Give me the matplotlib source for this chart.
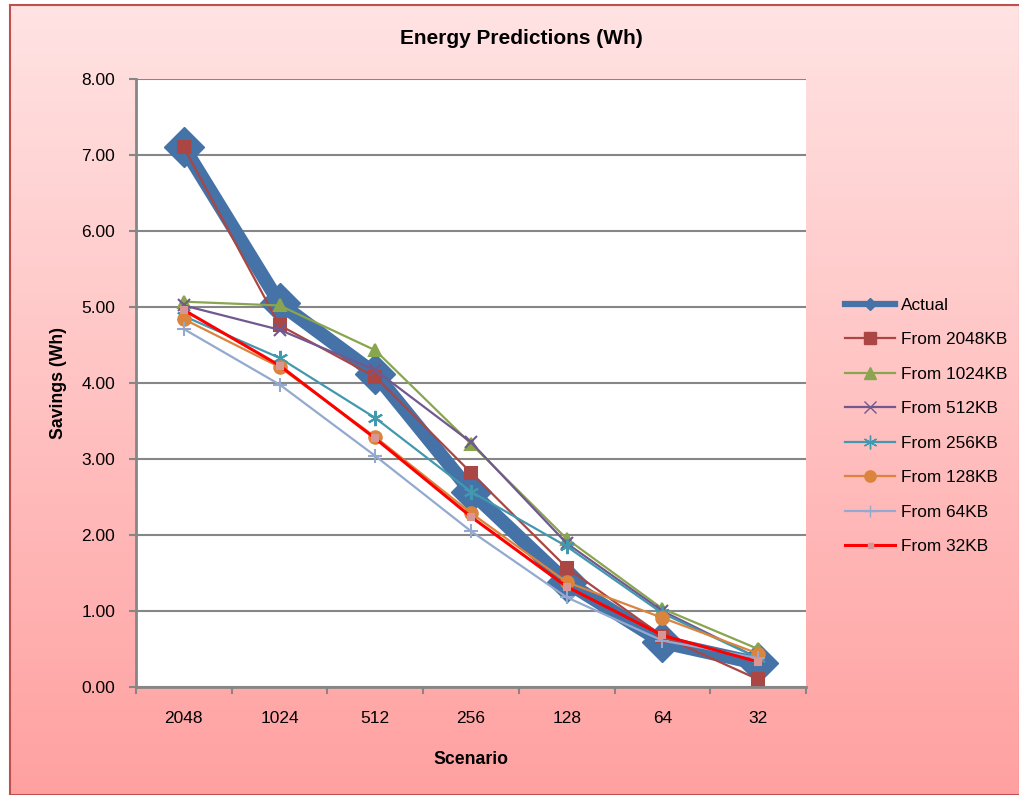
import numpy as np
import matplotlib.pyplot as plt
from matplotlib.lines import Line2D

plt.rcParams['font.family'] = ['Liberation Sans', 'DejaVu Sans']

# data
scenarios = ['2048', '1024', '512', '256', '128', '64', '32']
actual = [7.10, 5.05, 4.12, 2.57, 1.38, 0.59, 0.31]
from_2048 = [7.10, 4.76, 4.08, 2.82, 1.57, 0.67, 0.10]
from_1024 = [5.07, 5.02, 4.43, 3.20, 1.95, 1.03, 0.50]
from_512 = [5.02, 4.70, 4.17, 3.22, 1.89, 1.00, 0.38]
from_256 = [4.88, 4.33, 3.54, 2.57, 1.85, 0.97, 0.38]
from_128 = [4.84, 4.21, 3.29, 2.29, 1.38, 0.91, 0.44]
from_64 = [4.71, 3.98, 3.04, 2.05, 1.18, 0.61, 0.38]
from_32 = [4.96, 4.23, 3.27, 2.24, 1.32, 0.68, 0.33]

series = [
    ('From 2048KB', from_2048, '#AA4643', 's', 9, 1.6),
    ('From 1024KB', from_1024, '#89A54E', '^', 9, 1.6),
    ('From 512KB', from_512, '#71588F', 'x', 9, 1.6),
    ('From 256KB', from_256, '#4198AF', (6, 2, 0), 11, 1.6),
    ('From 128KB', from_128, '#DB843D', 'o', 9, 1.6),
    ('From 64KB', from_64, '#93A9CF', '+', 10, 1.6),
    ('From 32KB', from_32, '#FF0000', 's', 4, 2.2),
]

fig = plt.figure(figsize=(10.2, 7.95), dpi=100)

# pink gradient background with border
bg = fig.add_axes([10/1020, 0, 1 - 10/1020, 1 - 5/795])
grad = np.linspace(0, 1, 256).reshape(-1, 1)
top = np.array([1.0, 0.89, 0.89])
bot = np.array([1.0, 0.63, 0.63])
img = top + (bot - top) * grad[:, :, None]
bg.imshow(img, aspect='auto', extent=[0, 1, 0, 1])
bg.set_xticks([])
bg.set_yticks([])
for s in bg.spines.values():
    s.set_color('#C0504D')
    s.set_linewidth(1.5)

ax = fig.add_axes([136/1020, 1 - 687/795, (806-136)/1020, (687-79)/795])
ax.set_facecolor('white')
x = np.arange(len(scenarios))

for lbl, vals, col, mk, ms, lw in series:
    mfc = '#D99694' if lbl == 'From 32KB' else col
    ax.plot(x, vals, color=col, marker=mk, markersize=ms, linewidth=lw,
            markerfacecolor=mfc, markeredgecolor=mfc, markeredgewidth=1.5, zorder=3)
ax.plot(x, actual, color='#4572A7', marker='D', markersize=20, linewidth=10,
        solid_joinstyle='round', zorder=2)

ax.set_xlim(-0.5, 6.5)
ax.set_ylim(0, 8)
ax.set_yticks(np.arange(0, 8.01, 1))
ax.set_yticklabels(['%.2f' % v for v in np.arange(0, 8.01, 1)], fontsize=12.5)
ax.set_xticks(x)
ax.set_xticklabels(scenarios, fontsize=12.5)
ax.set_xticks(np.arange(-0.5, 6.6, 1), minor=True)
ax.tick_params(axis='x', which='major', length=0, pad=17.5)
ax.tick_params(axis='x', which='minor', length=5, width=1.5, color='#868686', direction='out')
ax.tick_params(axis='y', length=5, width=1.5, color='#868686', pad=10)
ax.grid(axis='y', color='#868686', linewidth=1.5)
ax.set_axisbelow(True)
for s in ['top', 'right']:
    ax.spines[s].set_visible(False)
for s in ['left', 'bottom']:
    ax.spines[s].set_color('#868686')
    ax.spines[s].set_linewidth(2)

ax.set_xlabel('Scenario', fontsize=12.7, fontweight='bold', labelpad=17.5)
ax.set_ylabel('Savings (Wh)', fontsize=12.7, fontweight='bold', labelpad=10)
fig.text(521/1020, 1 - 39/795, 'Energy Predictions (Wh)', fontsize=15,
         fontweight='bold', ha='center', va='center')

handles = [Line2D([], [], color='#4572A7', marker='D', markersize=6, linewidth=4.5)]
for lbl, vals, col, mk, ms, lw in series:
    mfc = '#D99694' if lbl == 'From 32KB' else col
    handles.append(Line2D([], [], color=col, marker=mk, markersize=ms * 0.9,
                          linewidth=lw, markerfacecolor=mfc, markeredgecolor=mfc))
labels = ['Actual'] + [s[0] for s in series]
fig.legend(handles, labels, loc='upper left', bbox_to_anchor=(830/1020, 1 - 282/795),
           frameon=False, fontsize=12.4, handlelength=2.9, labelspacing=1.13,
           handletextpad=0.3)

fig.savefig('out.png', dpi=100)
